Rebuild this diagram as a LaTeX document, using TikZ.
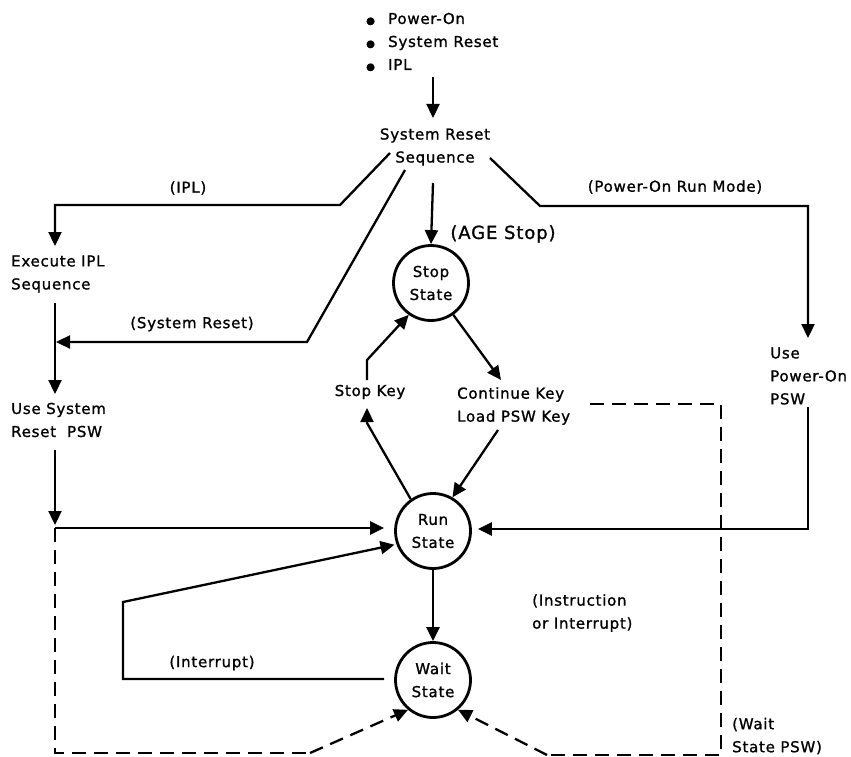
\documentclass[tikz,border=0pt]{standalone}
\usepackage{fontspec}
\setmainfont{DejaVu Sans}[LetterSpace=5, FakeBold=1.2]
\usetikzlibrary{arrows.meta}
\newcommand\bul{\makebox[22pt][l]{\fontsize{10}{10}\selectfont ●}}
\begin{document}
\begin{tikzpicture}[x=1pt,y=-1pt,
  font=\fontsize{15}{23}\selectfont,
  ln/.style={line width=2.3pt, line join=miter},
  arr/.style={ln, -{Triangle[length=14pt,width=13pt]}},
  dsh/.style={ln, dash pattern=on 14pt off 8pt},
  state/.style={circle, draw, line width=2.8pt, minimum size=75pt, inner sep=0pt, align=center},
  txt/.style={inner sep=2pt, align=left}]
\useasboundingbox (0,0) rectangle (851,757);

% text nodes
\node[txt, anchor=west] (src) at (364,42) {\bul Power-On\\ \bul System Reset\\ \bul IPL};
\node[txt, align=center] (seq) at (435,147) {System Reset\\Sequence};
\node[txt, anchor=west] (exe) at (9,274) {Execute IPL\\Sequence};
\node[txt, anchor=west] (usr) at (9,420) {Use System\\Reset\ \ PSW};
\node[txt, anchor=west] (upo) at (768,376) {Use\\Power-On\\PSW};
\node[txt, font=\fontsize{18}{20}\selectfont] (age) at (503,234) {(AGE Stop)};
\node[state] (stop) at (431,283) {Stop\\State};
\node[state] (run) at (433,531) {Run\\State};
\node[state] (wait) at (433,680) {Wait\\State};
\node[txt] (skey) at (370,392) {Stop Key};
\node[txt, anchor=west] (cont) at (455,406) {Continue Key\\Load PSW Key};
\node[txt] (lipl) at (188,188) {(IPL)};
\node[txt] (lsr) at (192,324) {(System Reset)};
\node[txt] (lpo) at (675,187) {(Power-On Run Mode)};
\node[txt] (lint) at (212,663) {(Interrupt)};
\node[txt, anchor=west] (lii) at (530,613) {(Instruction\\or Interrupt)};
\node[txt, anchor=west] (lwp) at (730,736) {(Wait\\State PSW)};

% named end points
\coordinate (srcO) at (433,77);
\coordinate (seqIn) at (433,118);
\coordinate (seqL) at (390,153);
\coordinate (seqM) at (405,170);
\coordinate (seqR) at (490,158);
\coordinate (seqB) at (433,183);
\coordinate (exeIn) at (55,246);
\coordinate (exeOut) at (55,303);
\coordinate (usrIn) at (55,394);
\coordinate (usrOut) at (55,450);
\coordinate (join) at (55,528);
\coordinate (upoIn) at (808,338);
\coordinate (upoOut) at (808,407);
\coordinate (contR) at (590,404);
\coordinate (contIn) at (501,380);
\coordinate (contOut) at (498,430);
\coordinate (skIn) at (367,408);
\coordinate (skOut) at (367,380);

% solid connectors
\draw[arr] (srcO) -- (seqIn);
\draw[arr] (seqL) -- (340,205) -- (55,205) -- (exeIn);
\draw[arr] (seqM) -- (307,342) -- (56,342);
\draw[arr] (seqR) -- (540,206) -- (808,206) -- (upoIn);
\draw[arr] (seqB) -- (stop.north);
\draw[arr] (exeOut) -- (usrIn);
\draw[arr] (usrOut) -- (55,525);
\draw[arr, shorten >=10pt] (join) -- (run.west |- join);
\draw[arr, shorten >=6pt] (upoOut) -- (808,529) -- (run.east |- 0,529);
\draw[arr] (stop.-55) -- (contIn);
\draw[arr] (contOut) -- (run.60);
\draw[arr] (run.125) -- (367,423) -- (skIn);
\draw[arr] (skOut) -- (367,360) -- (stop.235);
\draw[arr] (run.south) -- (wait.north);
\draw[arr, shorten >=2pt] (wait.west |- 0,679) ++(-10,0) -- (123,679) -- (123,602) -- (run.200);

% dashed connectors
\draw[dsh] (join) -- (55,753) -- (310,753);
\draw[arr, dash pattern=on 14pt off 8pt] (310,753) -- (wait.230);
\draw[dsh] (contR) -- (721,404) -- (721,755) -- (547,755);
\draw[arr, dash pattern=on 14pt off 8pt] (547,755) -- (wait.-50);
\end{tikzpicture}
\end{document}
